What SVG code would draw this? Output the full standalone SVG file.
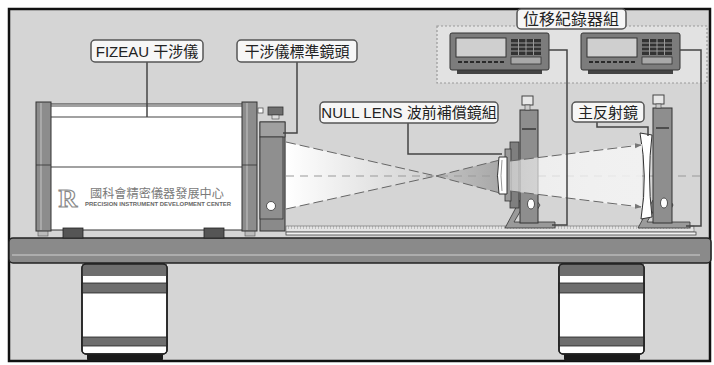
<svg xmlns="http://www.w3.org/2000/svg" width="714" height="365" viewBox="0 0 714 365">
  <defs>
    <style>
      .lbl { fill: #f6f6f6; stroke: #555; stroke-width: 1.5; }
      .lt { font-family: "Liberation Sans", "Noto Sans CJK TC", sans-serif; font-size: 15px; fill: #222; text-anchor: middle; }
      .lead { fill: none; stroke: #444; stroke-width: 1.5; }
      .post { fill: #8c8c8c; stroke: #333; stroke-width: 1; }
      .col { fill: #8e8e8e; stroke: #333; stroke-width: 1; }
      .band { fill: #7a7a7a; stroke: #222; stroke-width: 1; }
      .edge { stroke: #666; stroke-width: 1; stroke-dasharray: 10 4; fill: none; }
      .knob { fill: #e8e8e8; stroke: #444; stroke-width: 1; }
    </style>
    <linearGradient id="beamA" x1="0" y1="0" x2="1" y2="0">
      <stop offset="0" stop-color="#ffffff"/>
      <stop offset="1" stop-color="#d0d0d0"/>
    </linearGradient>
    <linearGradient id="beamB" x1="0" y1="0" x2="1" y2="0">
      <stop offset="0" stop-color="#c4c4c4"/>
      <stop offset="1" stop-color="#a8a8a8"/>
    </linearGradient>
    <linearGradient id="beamC" x1="0" y1="0" x2="1" y2="0">
      <stop offset="0" stop-color="#ffffff" stop-opacity="0.55"/>
      <stop offset="1" stop-color="#f4f4f4" stop-opacity="0.9"/>
    </linearGradient>
    <pattern id="ruler" width="3" height="8" patternUnits="userSpaceOnUse">
      <rect width="3" height="8" fill="#e4e4e4"/>
      <line x1="0.5" y1="0" x2="0.5" y2="5" stroke="#aaa" stroke-width="0.7"/>
    </pattern>
    <marker id="tip" viewBox="0 0 8 8" refX="7" refY="4" markerWidth="7" markerHeight="7" orient="auto">
      <path d="M0,1 L8,4 L0,7 Z" fill="#777"/>
    </marker>
  </defs>

  <!-- page and frame -->
  <rect x="0" y="0" width="714" height="365" fill="#ffffff"/>
  <rect x="9" y="9" width="701" height="352" fill="#d5d5d5" stroke="#111" stroke-width="2.5"/>

  <!-- optical table -->
  <g id="table">
    <rect x="9" y="238" width="702" height="25" rx="4" fill="#8a8a8a" stroke="#222" stroke-width="1.5"/>
    <line x1="12" y1="255" x2="700" y2="255" stroke="#cfcfcf" stroke-width="1.2"/>
    <!-- rail with scale -->
    <rect x="286" y="226" width="408" height="6" fill="url(#ruler)" stroke="#666" stroke-width="0.6"/>
    <rect x="286" y="232" width="410" height="3" fill="#f2f2f2" stroke="#444" stroke-width="0.8"/>
  </g>

  <!-- table legs -->
  <g id="leg-left">
    <rect x="87" y="352" width="76" height="9" rx="2" fill="#1a1a1a"/>
    <rect x="82" y="264" width="85" height="90" rx="4" fill="#ffffff" stroke="#222" stroke-width="1.5"/>
    <rect x="82" y="264" width="85" height="12" fill="#6e6e6e"/>
    <rect x="82" y="283" width="85" height="10" fill="#6e6e6e" stroke="#222" stroke-width="0.8"/>
    <rect x="82" y="337" width="85" height="9" fill="#6e6e6e" stroke="#222" stroke-width="0.8"/>
    <rect x="82" y="264" width="85" height="90" rx="4" fill="none" stroke="#222" stroke-width="1.5"/>
  </g>
  <g id="leg-right">
    <rect x="564" y="352" width="76" height="9" rx="2" fill="#1a1a1a"/>
    <rect x="559" y="264" width="85" height="90" rx="4" fill="#ffffff" stroke="#222" stroke-width="1.5"/>
    <rect x="559" y="264" width="85" height="12" fill="#6e6e6e"/>
    <rect x="559" y="283" width="85" height="10" fill="#6e6e6e" stroke="#222" stroke-width="0.8"/>
    <rect x="559" y="337" width="85" height="9" fill="#6e6e6e" stroke="#222" stroke-width="0.8"/>
    <rect x="559" y="264" width="85" height="90" rx="4" fill="none" stroke="#222" stroke-width="1.5"/>
  </g>

  <!-- light path -->
  <g id="beam">
    <polygon points="286,142 436,176 286,209" fill="url(#beamA)"/>
    <polygon points="436,176 500,160 500,193" fill="url(#beamB)"/>
    <line x1="286" y1="176" x2="700" y2="176" stroke="#9a9a9a" stroke-width="1.2" stroke-dasharray="8 6"/>
    <line class="edge" x1="286" y1="142" x2="436" y2="176"/>
    <line class="edge" x1="286" y1="209" x2="436" y2="176"/>
    <line class="edge" x1="436" y1="176" x2="500" y2="160"/>
    <line class="edge" x1="436" y1="176" x2="500" y2="193"/>
  </g>

  <!-- Fizeau interferometer -->
  <g id="fizeau">
    <rect x="50" y="104" width="193" height="126" fill="#ffffff" stroke="#333" stroke-width="1"/>
    <line x1="50" y1="106" x2="243" y2="106" stroke="#444" stroke-width="1.2"/>
    <line x1="50" y1="117" x2="243" y2="117" stroke="#444" stroke-width="1.2"/>
    <line x1="50" y1="167" x2="243" y2="167" stroke="#444" stroke-width="1.2"/>
    <rect x="63" y="228" width="20" height="10" fill="#555" stroke="#222" stroke-width="0.8"/>
    <rect x="204" y="228" width="20" height="10" fill="#555" stroke="#222" stroke-width="0.8"/>
    <rect x="38" y="229" width="10" height="7" fill="#bbb" stroke="#555" stroke-width="0.6"/>
    <rect x="245" y="229" width="10" height="7" fill="#bbb" stroke="#555" stroke-width="0.6"/>
    <rect x="36" y="102" width="15" height="129" class="post"/>
    <line x1="41" y1="103" x2="41" y2="230" stroke="#bdbdbd" stroke-width="1.2"/>
    <line x1="36" y1="165" x2="51" y2="165" stroke="#333" stroke-width="0.8"/>
    <rect x="242" y="102" width="15" height="129" class="post"/>
    <line x1="247" y1="103" x2="247" y2="230" stroke="#bdbdbd" stroke-width="1.2"/>
    <line x1="242" y1="165" x2="257" y2="165" stroke="#333" stroke-width="0.8"/>
    <!-- maker logo -->
    <text x="68" y="207" font-family="Liberation Serif, serif" font-size="26" font-weight="bold" fill="#ffffff" stroke="#8a8a8a" stroke-width="1.2" text-anchor="middle">R</text>
    <text x="90" y="198" font-family="Noto Sans CJK TC, sans-serif" font-size="12" fill="#7a7a7a" textLength="134" lengthAdjust="spacingAndGlyphs">國科會精密儀器發展中心</text>
    <text x="85" y="206" font-family="Liberation Sans, sans-serif" font-size="5.5" font-weight="bold" fill="#666" textLength="146" lengthAdjust="spacingAndGlyphs">PRECISION INSTRUMENT DEVELOPMENT CENTER</text>
  </g>

  <!-- transmission sphere -->
  <g id="transmission-sphere">
    <rect x="258" y="108" width="5" height="5" fill="#fff" stroke="#555" stroke-width="0.8"/>
    <rect x="268" y="107" width="15" height="8" fill="#6f6f6f" stroke="#333" stroke-width="0.8"/>
    <rect x="272" y="115" width="7" height="4" fill="#ddd" stroke="#444" stroke-width="0.6"/>
    <rect x="260" y="122" width="25" height="109" fill="#8a8a8a" stroke="#333" stroke-width="1"/>
    <rect x="260" y="122" width="25" height="15" fill="#a0a0a0" stroke="#333" stroke-width="0.8"/>
    <rect x="260" y="137" width="23" height="82" fill="#8f8f8f" stroke="#333" stroke-width="0.8"/>
    <circle cx="271" cy="206" r="4.5" fill="#fff" stroke="#333" stroke-width="0.8"/>
  </g>

  <!-- null lens assembly -->
  <g id="null-lens">
    <polygon points="505,228 520,200 527,200 514,222 555,222 555,228" fill="#9a9a9a" stroke="#333" stroke-width="0.8"/>
    <polygon points="522,222 536,200 540,205 530,222" fill="#b0b0b0" stroke="#333" stroke-width="0.8"/>
    <rect x="520" y="110" width="18" height="113" class="col"/>
    <line x1="522" y1="129" x2="536" y2="129" stroke="#222" stroke-width="1.2"/>
    <rect x="522" y="96" width="11" height="9" class="knob"/>
    <rect x="525" y="105" width="5" height="5" fill="#ccc" stroke="#444" stroke-width="0.6"/>
    <ellipse cx="531" cy="204" rx="3.5" ry="5" fill="#fff" stroke="#333" stroke-width="0.8"/>
    <rect x="510" y="142" width="9" height="66" fill="#7f7f7f" stroke="#333" stroke-width="0.8"/>
    <rect x="505" y="149" width="6" height="52" fill="#9a9a9a" stroke="#333" stroke-width="0.8"/>
    <path d="M499,157 Q496,176 499,194 L507,194 L507,157 Z" fill="#ffffff" stroke="#333" stroke-width="1"/>
    <path d="M502,160 Q500,176 502,191" fill="none" stroke="#999" stroke-width="1"/>
  </g>

  <!-- primary mirror -->
  <g id="primary-mirror">
    <polygon points="638,228 653,200 660,200 647,222 690,222 690,228" fill="#9a9a9a" stroke="#333" stroke-width="0.8"/>
    <polygon points="656,222 670,200 673,205 664,222" fill="#b0b0b0" stroke="#333" stroke-width="0.8"/>
    <rect x="653" y="108" width="19" height="115" class="col"/>
    <line x1="656" y1="128" x2="669" y2="128" stroke="#222" stroke-width="1.2"/>
    <rect x="653" y="95" width="11" height="9" class="knob"/>
    <rect x="656" y="104" width="5" height="4" fill="#ccc" stroke="#444" stroke-width="0.6"/>
    <ellipse cx="664" cy="203" rx="3.5" ry="5" fill="#fff" stroke="#333" stroke-width="0.8"/>
    <path d="M640,133 L652,135 Q647,176 652,217 L641,219 Q648,176 640,133 Z" fill="#ffffff" stroke="#333" stroke-width="1"/>
  </g>

  <!-- expanded beam toward the mirror -->
  <g id="beam-expanded">
    <polygon points="510,161 642,144 642,208 510,191" fill="url(#beamC)"/>
    <line class="edge" x1="510" y1="161" x2="641" y2="145" marker-end="url(#tip)"/>
    <line class="edge" x1="510" y1="191" x2="641" y2="207" marker-end="url(#tip)"/>
  </g>

  <!-- displacement recorders -->
  <g id="recorders">
    <rect x="437" y="26" width="270" height="57" fill="#e2e2e2" stroke="#9a9a9a" stroke-width="1.2" stroke-dasharray="2 2"/>
    <g id="recorder-1">
      <rect x="457" y="69" width="85" height="5" fill="#444"/>
      <rect x="450" y="33" width="99" height="37" rx="2" fill="#7c7c7c" stroke="#333" stroke-width="1"/>
      <rect x="456" y="38" width="50" height="19" fill="#cfcfcf" stroke="#333" stroke-width="1"/>
      <rect x="511" y="39" width="30" height="16" fill="#333"/>
      <g stroke="#9a9a9a" stroke-width="1">
        <line x1="511" y1="43" x2="541" y2="43"/><line x1="511" y1="47" x2="541" y2="47"/><line x1="511" y1="51" x2="541" y2="51"/>
        <line x1="518.5" y1="39" x2="518.5" y2="55"/><line x1="526" y1="39" x2="526" y2="55"/><line x1="533.5" y1="39" x2="533.5" y2="55"/>
      </g>
      <rect x="511" y="57" width="30" height="7" fill="#a8a8a8" stroke="#333" stroke-width="0.8"/>
      <line x1="458" y1="62" x2="505" y2="62" stroke="#2a2a2a" stroke-width="2" stroke-dasharray="4 2"/>
    </g>
    <g id="recorder-2">
      <rect x="588" y="69" width="85" height="5" fill="#444"/>
      <rect x="581" y="33" width="99" height="37" rx="2" fill="#7c7c7c" stroke="#333" stroke-width="1"/>
      <rect x="587" y="38" width="50" height="19" fill="#cfcfcf" stroke="#333" stroke-width="1"/>
      <rect x="642" y="39" width="30" height="16" fill="#333"/>
      <g stroke="#9a9a9a" stroke-width="1">
        <line x1="642" y1="43" x2="672" y2="43"/><line x1="642" y1="47" x2="672" y2="47"/><line x1="642" y1="51" x2="672" y2="51"/>
        <line x1="649.5" y1="39" x2="649.5" y2="55"/><line x1="657" y1="39" x2="657" y2="55"/><line x1="664.5" y1="39" x2="664.5" y2="55"/>
      </g>
      <rect x="642" y="57" width="30" height="7" fill="#a8a8a8" stroke="#333" stroke-width="0.8"/>
      <line x1="589" y1="62" x2="636" y2="62" stroke="#2a2a2a" stroke-width="2" stroke-dasharray="4 2"/>
    </g>
  </g>

  <!-- cables and leader lines -->
  <g id="connectors">
    <polyline class="lead" points="549,50 567,50 567,225 552,225"/>
    <polyline class="lead" points="680,50 701,50 701,226 686,226"/>
    <polyline class="lead" points="147,62 147,117"/>
    <polyline class="lead" points="297,62 297,133 283,133"/>
    <polyline class="lead" points="408,123 408,154 502,154"/>
    <polyline class="lead" points="597,122 597,127 648,127 648,136"/>
  </g>

  <!-- labels -->
  <g id="label-fizeau">
    <rect class="lbl" x="91" y="40" width="112" height="22" rx="4"/>
    <text class="lt" x="147" y="57">FIZEAU 干涉儀</text>
  </g>
  <g id="label-transmission-sphere">
    <rect class="lbl" x="237" y="40" width="120" height="22" rx="4"/>
    <text class="lt" x="297" y="57">干涉儀標準鏡頭</text>
  </g>
  <g id="label-null-lens">
    <rect class="lbl" x="320" y="102" width="178" height="21" rx="4"/>
    <text class="lt" x="409" y="118">NULL LENS 波前補償鏡組</text>
  </g>
  <g id="label-mirror">
    <rect class="lbl" x="572" y="102" width="72" height="20" rx="4"/>
    <text class="lt" x="608" y="118">主反射鏡</text>
  </g>
  <g id="label-recorders">
    <rect class="lbl" x="517" y="9" width="109" height="20" rx="4"/>
    <text class="lt" x="571" y="25" style="font-size:16px">位移紀錄器組</text>
  </g>
</svg>
